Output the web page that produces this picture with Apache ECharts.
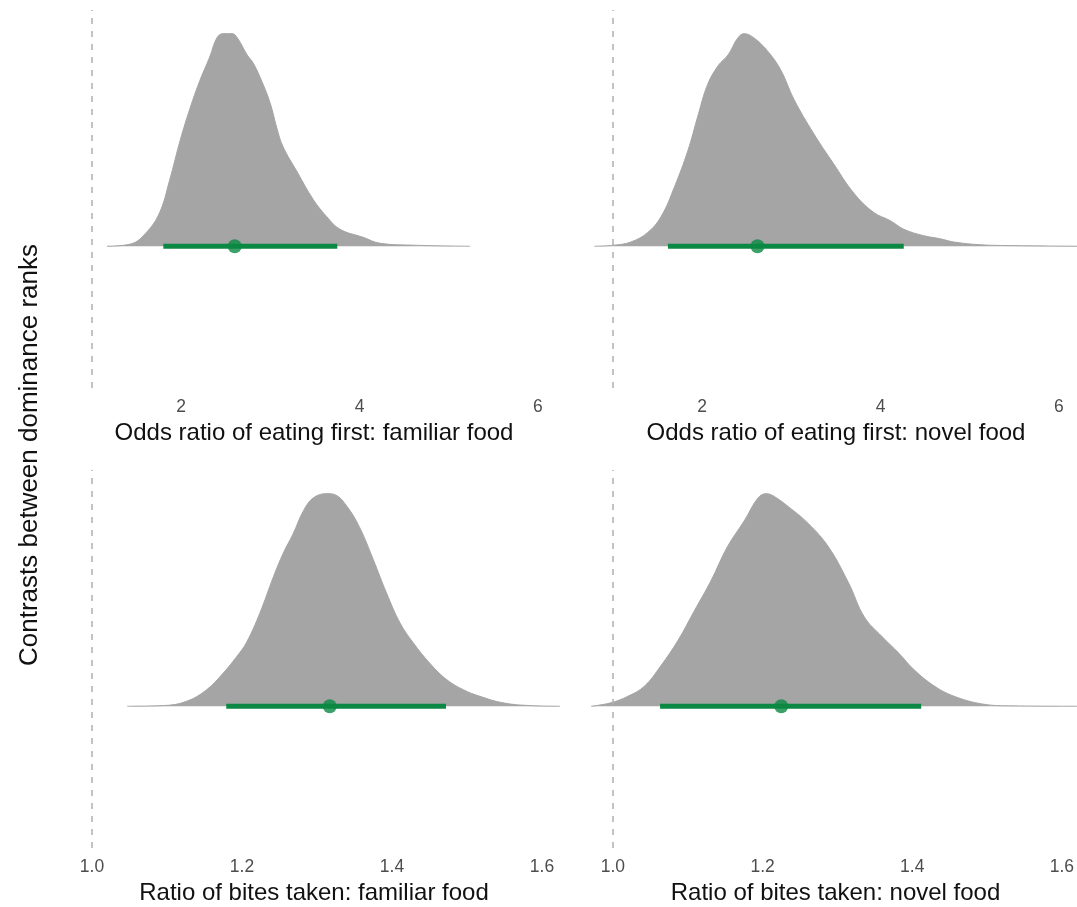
<!DOCTYPE html>
<html>
<head>
<meta charset="utf-8">
<title>Contrasts between dominance ranks</title>
<script src="https://cdn.jsdelivr.net/npm/echarts@6/dist/echarts.min.js"></script>
<style>
  html, body { margin: 0; padding: 0; background: #ffffff; }
  #chart { width: 1077px; height: 907px; }
</style>
</head>
<body>
<div id="chart"></div>
<script>
// Panel titles (x-axis titles), in row order
const panelTitles = [
  'Odds ratio of eating first: familiar food',
  'Odds ratio of eating first: novel food',
  'Ratio of bites taken: familiar food',
  'Ratio of bites taken: novel food'
];
const yTitle = 'Contrasts between dominance ranks';

// Tick labels
const oddsTicks = [2, 4, 6];
const ratioTicks = [1.0, 1.2, 1.4, 1.6];

// Reference value (no difference between ranks)
const nullValue = 1;

// Posterior densities: x positions and relative heights (peak = 1)
const oddsFamiliarX = [1.17, 1.43, 1.61, 1.76, 1.87, 1.99, 2.10, 2.21, 2.32, 2.40, 2.47, 2.57, 2.63, 2.74, 2.81, 2.91, 3.00, 3.07, 3.14, 3.30, 3.48, 3.63, 3.78, 4.04, 4.23, 4.60, 5.24];
const oddsFamiliarH = [0, 0.01, 0.065, 0.16, 0.31, 0.50, 0.65, 0.78, 0.89, 0.98, 1.0, 1.0, 0.98, 0.90, 0.86, 0.77, 0.67, 0.56, 0.47, 0.35, 0.22, 0.14, 0.08, 0.042, 0.014, 0.005, 0];

const oddsNovelX = [0.79, 1.01, 1.20, 1.39, 1.54, 1.69, 1.84, 1.95, 2.06, 2.18, 2.29, 2.40, 2.47, 2.58, 2.73, 2.88, 3.03, 3.25, 3.47, 3.70, 3.92, 4.11, 4.26, 4.48, 4.67, 4.82, 5.12, 5.49, 6.21];
const oddsNovelH = [0, 0.005, 0.02, 0.065, 0.14, 0.28, 0.45, 0.61, 0.76, 0.85, 0.90, 0.98, 1.0, 0.98, 0.92, 0.83, 0.69, 0.53, 0.39, 0.25, 0.16, 0.12, 0.08, 0.05, 0.035, 0.02, 0.007, 0.003, 0];

const bitesFamiliarX = [1.047, 1.095, 1.126, 1.153, 1.175, 1.193, 1.206, 1.224, 1.242, 1.255, 1.268, 1.282, 1.295, 1.313, 1.324, 1.340, 1.357, 1.375, 1.393, 1.411, 1.428, 1.451, 1.473, 1.495, 1.517, 1.548, 1.584, 1.624];
const bitesFamiliarH = [0, 0.003, 0.023, 0.078, 0.156, 0.234, 0.30, 0.44, 0.61, 0.72, 0.81, 0.92, 0.98, 1.0, 0.995, 0.94, 0.84, 0.69, 0.53, 0.39, 0.30, 0.20, 0.125, 0.078, 0.047, 0.016, 0.003, 0];

const bitesNovelX = [0.971, 0.997, 1.020, 1.042, 1.064, 1.087, 1.109, 1.131, 1.153, 1.176, 1.194, 1.205, 1.214, 1.234, 1.261, 1.288, 1.315, 1.336, 1.359, 1.382, 1.403, 1.430, 1.456, 1.493, 1.529, 1.622];
const bitesNovelH = [0, 0.016, 0.047, 0.094, 0.19, 0.31, 0.45, 0.59, 0.75, 0.875, 0.98, 1.0, 0.99, 0.94, 0.86, 0.75, 0.58, 0.42, 0.33, 0.25, 0.17, 0.094, 0.047, 0.011, 0.002, 0];

// Point estimates (median) and 95% interval bounds, per panel
const medians = [2.60, 2.62, 1.317, 1.225];
const intervalLow = [1.80, 1.616, 1.179, 1.063];
const intervalHigh = [3.75, 4.26, 1.472, 1.412];

const densityX = [oddsFamiliarX, oddsNovelX, bitesFamiliarX, bitesNovelX];
const densityH = [oddsFamiliarH, oddsNovelH, bitesFamiliarH, bitesNovelH];

// Layout / style
const GREEN = '#0b8944';
const GREY = '#a5a5a5';
const FONT = '"Liberation Sans", Arial, Helvetica, sans-serif';
const HALF_EYE_SCALE = 0.9;   // density height relative to the slab row
const ROW = 1;                 // y position of the single slab row

const gridBoxes = [
  { left: 62,  top: 10,  width: 504, height: 378 },
  { left: 583, top: 10,  width: 494, height: 378 },
  { left: 62,  top: 470, width: 504, height: 378 },
  { left: 583, top: 470, width: 494, height: 378 }
];
const xRanges = [
  [0.664, 6.314], [0.664, 6.202],
  [0.96, 1.632], [0.96, 1.619]
];
// the right-hand column runs off the page edge, so its titles sit a bit right of the visible centre
const titleShift = [0, 12, 0, 12];
const tickSets = [oddsTicks, oddsTicks, ratioTicks, ratioTicks];

const grids = [], xAxes = [], yAxes = [], series = [];

for (let i = 0; i < 4; i++) {
  grids.push(Object.assign({ containLabel: false }, gridBoxes[i]));
  const isRatio = i >= 2;
  xAxes.push({
    type: 'value',
    gridIndex: i,
    min: xRanges[i][0],
    max: xRanges[i][1],
    axisLine: { show: false },
    axisTick: { show: false },
    splitLine: { show: false },
    axisLabel: {
      customValues: tickSets[i],
      color: '#4d4d4d',
      fontSize: 17.5,
      fontFamily: FONT,
      margin: 10,
      formatter: v => isRatio ? Number(v).toFixed(1) : String(Math.round(v))
    },
    name: panelTitles[i],
    nameLocation: 'middle',
    nameGap: 33,
    nameTextStyle: {
      color: '#111111',
      fontSize: 24,
      fontFamily: FONT,
      padding: [0, 0, 0, titleShift[i]]
    }
  });
  yAxes.push({
    type: 'value',
    gridIndex: i,
    min: 0.4,
    max: 2.0,
    show: false
  });

  // Posterior density slab
  series.push({
    type: 'line',
    xAxisIndex: i,
    yAxisIndex: i,
    data: densityX[i].map((x, k) => [x, ROW + HALF_EYE_SCALE * densityH[i][k]]),
    smooth: 0.4,
    showSymbol: false,
    symbol: 'none',
    lineStyle: { color: GREY, width: 1 },
    areaStyle: { color: GREY, opacity: 1, origin: ROW },
    silent: true,
    z: 2,
    markLine: {
      silent: true,
      symbol: 'none',
      label: { show: false },
      lineStyle: { color: '#b0b0b0', width: 1.5, type: [6, 7] },
      data: [{ xAxis: nullValue }],
      z: 5
    }
  });

  // Interval bar
  series.push({
    type: 'line',
    xAxisIndex: i,
    yAxisIndex: i,
    data: [[intervalLow[i], ROW], [intervalHigh[i], ROW]],
    showSymbol: false,
    symbol: 'none',
    lineStyle: { color: GREEN, width: 5, cap: 'butt' },
    silent: true,
    z: 3
  });

  // Point estimate
  series.push({
    type: 'scatter',
    xAxisIndex: i,
    yAxisIndex: i,
    data: [[medians[i], ROW]],
    symbol: 'circle',
    symbolSize: 14,
    itemStyle: { color: GREEN },
    silent: true,
    z: 4
  });
}

const chart = echarts.init(document.getElementById('chart'), null, { renderer: 'canvas' });
chart.setOption({
  animation: false,
  backgroundColor: '#ffffff',
  grid: grids,
  xAxis: xAxes,
  yAxis: yAxes,
  series: series,
  graphic: [{
    type: 'text',
    x: 30,
    y: 455,
    rotation: Math.PI / 2,
    style: {
      text: yTitle,
      fill: '#111111',
      fontSize: 26,
      fontFamily: FONT,
      align: 'center',
      verticalAlign: 'middle'
    }
  }]
});
</script>
</body>
</html>
